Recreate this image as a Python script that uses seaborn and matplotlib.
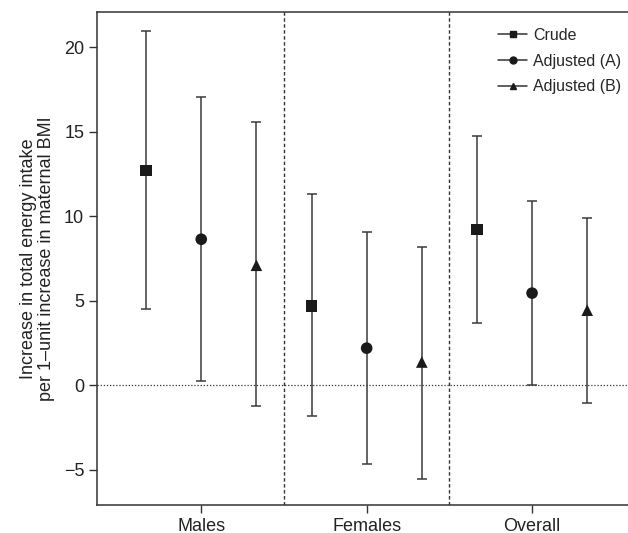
import matplotlib
matplotlib.use("Agg")
import matplotlib.pyplot as plt
from matplotlib.lines import Line2D
import seaborn as sns
import pandas as pd

# dados
grupos = ["Males", "Females", "Overall"]
modelos = ["Crude", "Adjusted (A)", "Adjusted (B)"]

crude_est = [12.72, 4.68, 9.21]
crude_low = [4.52, -1.85, 3.70]
crude_high = [20.96, 11.34, 14.73]

adjA_est = [8.64, 2.19, 5.45]
adjA_low = [0.24, -4.66, 0.00]
adjA_high = [17.04, 9.09, 10.93]

adjB_est = [7.10, 1.37, 4.44]
adjB_low = [-1.21, -5.55, -1.07]
adjB_high = [15.60, 8.16, 9.89]

estimativas = [crude_est, adjA_est, adjB_est]
inferiores = [crude_low, adjA_low, adjB_low]
superiores = [crude_high, adjA_high, adjB_high]

linhas = []
for i, modelo in enumerate(modelos):
    for j, grupo in enumerate(grupos):
        linhas.append({"Grupo": grupo, "Modelo": modelo, "gi": j, "mi": i,
                       "Estimativa": estimativas[i][j],
                       "Inferior": inferiores[i][j],
                       "Superior": superiores[i][j]})
df = pd.DataFrame(linhas)
deslocamento = {0: -1/3, 1: 0.0, 2: 1/3}
df["x"] = df["gi"] + 1 + df["mi"].map(deslocamento)

sns.set_style("ticks")
plt.rcParams["font.family"] = ["Liberation Sans", "DejaVu Sans"]

fig = plt.figure(figsize=(6.28, 5.33), dpi=100)
ax = fig.add_axes([0.154, 0.0525, 0.846, 0.925])

# barras de erro
ax.errorbar(df["x"], df["Estimativa"],
            yerr=[df["Estimativa"] - df["Inferior"], df["Superior"] - df["Estimativa"]],
            fmt="none", ecolor="#3a3a3a", elinewidth=1.1, capsize=3.4, capthick=1.1, zorder=2)

# marcadores
marcadores = {"Crude": "s", "Adjusted (A)": "o", "Adjusted (B)": "^"}
sns.scatterplot(data=df, x="x", y="Estimativa", style="Modelo", markers=marcadores,
                color="#1a1a1a", s=70, edgecolor="none", legend=False, ax=ax, zorder=3)

ax.axhline(0, color="#333333", linestyle=(0, (1, 1.5)), linewidth=0.9, zorder=1)
for xs in [1.5, 2.5]:
    ax.axvline(xs, color="#333333", linestyle=(0, (2.5, 1.8)), linewidth=1.0, zorder=1)

ax.set_xlim(0.368, 3.58)
ax.set_ylim(-7.1, 22.1)
ax.set_xticks([1, 2, 3])
ax.set_xticklabels(grupos, fontsize=13)
ax.set_yticks([-5, 0, 5, 10, 15, 20])
ax.set_yticklabels(["\u22125", "0", "5", "10", "15", "20"], fontsize=13)
ax.tick_params(axis="both", length=6, width=1, color="#333333", labelcolor="#222222", pad=3)
ax.set_xlabel("")
ax.set_ylabel("Increase in total energy intake\nper 1\u2013unit increase in maternal BMI",
              fontsize=13, color="#222222", labelpad=6, linespacing=1.1)
for lado in ["left", "bottom", "top"]:
    ax.spines[lado].set_color("#333333")
    ax.spines[lado].set_linewidth(1.1)
ax.spines["right"].set_visible(False)

alcas = [Line2D([0], [0], color="#333333", lw=1.1, marker=marcadores[m],
                markersize=5, markerfacecolor="#1a1a1a", markeredgecolor="#1a1a1a")
         for m in modelos]
ax.legend(alcas, modelos, loc="upper left", bbox_to_anchor=(0.755, 0.968), frameon=False,
          fontsize=11.5, handlelength=1.85, handletextpad=0.35, labelspacing=0.68,
          borderpad=0, borderaxespad=0)

fig.savefig("out.png", dpi=100)
